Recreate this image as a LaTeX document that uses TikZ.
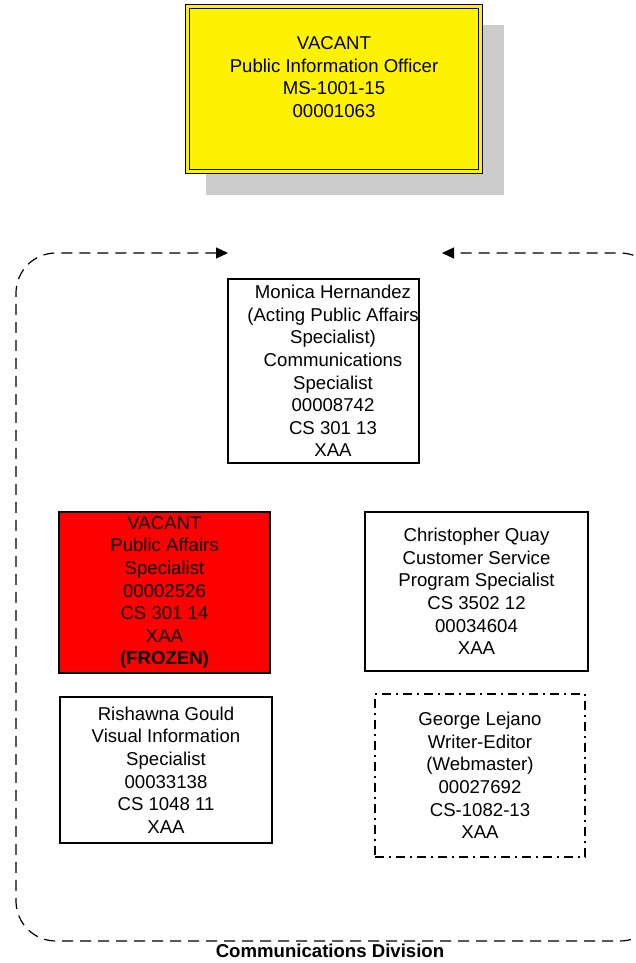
\documentclass[tikz,border=0pt]{standalone}
\usepackage{fontspec}
\setmainfont{Liberation Sans}
\usepackage{tikz}
\usetikzlibrary{arrows.meta}
\usetikzlibrary{positioning}

\begin{document}
\begin{tikzpicture}[x=1pt, y=-1pt,
    font=\fontsize{18.6}{22.6}\selectfont,
    post/.style={draw, line width=1.2pt, inner sep=0pt, align=center},
    frame/.style={dash pattern=on 11pt off 7pt, line width=1.2pt, rounded corners=40pt}]

    \useasboundingbox (0,0) rectangle (635,963);

    % office at the top
    \fill [black!20] (206,25) rectangle (504,195);
    \node [post, fill=yellow, line width=1pt, double=yellow, double distance=3.5pt,
      minimum width=293pt, minimum height=165pt] (pio) at (334,89) {};
    \node [align=center] (piotxt) at (334,77)
      {VACANT\\Public Information Officer\\MS-1001-15\\00001063};

    % division
    \coordinate (inl) at (228,253);
    \coordinate (inr) at (442,253);
    \draw [frame, {Triangle[length=12pt, width=11pt]}-{Triangle[length=12pt, width=11pt]}]
      (inl) -- (16,253) -- (16,941) -- (660,941) -- (660,253) -- (inr);
    \node [font=\fontsize{18.6}{22.6}\selectfont\bfseries] (division) at (330,951)
      {Communications Division};

    \node [post, minimum width=191pt, minimum height=184pt] (monica) at (323.5,371) {};
    \node [align=center] (monicatxt) at (333,371)
      {Monica Hernandez\\(Acting Public Affairs\\Specialist)\\Communications\\Specialist\\00008742\\CS 301 13\\XAA};

    \node [post, fill=red, minimum width=211pt, minimum height=161pt] (vacpas) at (164.5,592.5)
      {VACANT\\Public Affairs\\Specialist\\00002526\\CS 301 14\\XAA\\\textbf{(FROZEN)}};
    \node [post, minimum width=223pt, minimum height=159pt] (quay) at (476.5,591.5)
      {Christopher Quay\\Customer Service\\Program Specialist\\CS 3502 12\\00034604\\XAA};
    \node [post, minimum width=212pt, minimum height=146pt] (gould) at (166,770)
      {Rishawna Gould\\Visual Information\\Specialist\\00033138\\CS 1048 11\\XAA};
    \node [post, dash pattern=on 9pt off 5pt on 2pt off 5pt, minimum width=210pt,
      minimum height=163pt] (lejano) at (480,775.5)
      {George Lejano\\Writer-Editor\\(Webmaster)\\00027692\\CS-1082-13\\XAA};

\end{tikzpicture}
\end{document}
